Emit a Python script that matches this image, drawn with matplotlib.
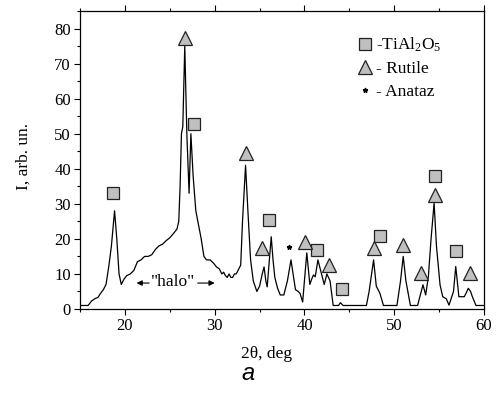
import matplotlib
matplotlib.use('Agg')
import matplotlib.pyplot as plt
from matplotlib.lines import Line2D
from matplotlib.ticker import MultipleLocator

plt.rcParams['font.family'] = ['Liberation Serif', 'DejaVu Serif']
plt.rcParams['mathtext.fontset'] = 'custom'
plt.rcParams['mathtext.rm'] = 'Liberation Serif'
plt.rcParams['mathtext.it'] = 'Liberation Serif:italic'

# XRD pattern (2theta, intensity)
two_theta = [15.0, 15.9, 16.3, 16.7, 17.0, 17.3, 17.6, 17.9, 18.2, 18.5, 18.85, 19.1, 19.35, 19.6,
             19.9, 20.2, 20.6, 21.0, 21.4, 21.8, 22.2, 22.6, 23.0, 23.4, 23.8, 24.2, 24.6, 25.0,
             25.4, 25.8, 26.0, 26.15, 26.3, 26.45, 26.67, 26.9, 27.15, 27.35, 27.6, 27.9, 28.2,
             28.5, 28.8, 29.1, 29.5, 29.9, 30.2, 30.5, 30.8, 31.0, 31.2, 31.4, 31.6, 31.8, 32.0,
             32.2, 32.4, 32.6, 32.9, 33.1, 33.44, 33.7, 34.0, 34.3, 34.7, 35.0, 35.3, 35.5, 35.7,
             35.85, 36.0, 36.3, 36.5, 36.7, 37.0, 37.3, 37.7, 38.1, 38.5, 38.8, 39.0, 39.3, 39.5,
             39.8, 40.0, 40.26, 40.6, 40.8, 41.0, 41.2, 41.5, 41.8, 42.2, 42.5, 42.85, 43.2, 43.8,
             44.0, 44.3, 46.9, 47.2, 47.7, 48.0, 48.4, 48.8, 50.3, 50.7, 51.0, 51.3, 51.8, 52.6,
             53.0, 53.2, 53.5, 53.8, 54.1, 54.44, 54.7, 55.1, 55.4, 55.8, 56.1, 56.4, 56.6, 56.85,
             57.2, 57.8, 58.0, 58.25, 58.5, 58.7, 59.1, 60.0]
intensity = [1, 1, 2.3, 3, 3.3, 4.5, 5.5, 7, 12, 18, 28, 20, 10, 7,
             8.5, 9.5, 10, 11, 13.5, 14, 15, 15, 15.5, 17, 18, 18.5, 19.5, 20.3,
             21.5, 22.8, 25, 35, 50, 52, 75, 50, 33, 50, 38, 28, 24,
             20, 15, 14, 14, 13, 12, 11.5, 10, 10.5, 9.5, 9, 10, 9, 9,
             10, 10, 11, 12.5, 25, 41, 28, 14, 8, 5, 6.5, 10, 12, 8,
             6.3, 11, 20.6, 14, 9, 6, 4, 4, 8, 14, 9, 5.5, 5, 4.5,
             2, 8, 16, 7, 8.5, 9.7, 9.2, 14, 11, 7, 10, 8, 1, 1,
             1.8, 1, 1, 5, 14, 6.5, 4.5, 1, 1, 8, 15, 8, 1, 1,
             5, 6.9, 4, 9.2, 20, 30.2, 18, 6.9, 3.5, 2.9, 1.1, 3.5, 5, 12.1,
             3.5, 3.5, 4.5, 5.9, 5, 3.5, 1, 1]

# phase markers
tial_x = [18.7, 27.7, 36.1, 41.4, 44.15, 48.4, 54.56, 56.9]
tial_y = [33, 52.8, 25.4, 16.9, 5.7, 20.7, 37.8, 16.6]
rutile_x = [26.67, 33.44, 35.3, 40.1, 42.7, 47.7, 51.0, 52.96, 54.56, 58.4]
rutile_y = [77.3, 44.5, 17.4, 19.2, 12.6, 17.3, 18.3, 10.2, 32.6, 10.2]
anataz_x = [38.3]
anataz_y = [17.7]

fig = plt.figure(figsize=(4.99, 3.97), dpi=100)
ax = fig.add_axes([0.1603, 0.2217, 0.8097, 0.7506])

ax.plot(two_theta, intensity, color='black', lw=0.9)

gray = '#c0c0c0'
ax.plot(tial_x, tial_y, 's', ms=8.4, mfc=gray, mec='#222222', mew=0.9, ls='none')
ax.plot(rutile_x, rutile_y, '^', ms=9.5, mfc=gray, mec='#222222', mew=0.9, ls='none')
ax.plot(anataz_x, anataz_y, '*', ms=3.5, color='black', ls='none')

# "halo" label with arrows
ax.text(25.4, 7.8, '"halo"', ha='center', va='center', fontsize=12.5)
arrow = dict(arrowstyle='-|>', color='black', lw=0.8, mutation_scale=8,
             shrinkA=0, shrinkB=0)
ax.annotate('', xy=(21.3, 7.4), xytext=(22.7, 7.4), arrowprops=arrow)
ax.annotate('', xy=(30.0, 7.4), xytext=(28.1, 7.4), arrowprops=arrow)

handles = [
    Line2D([], [], marker='s', ms=8.4, mfc=gray, mec='#222222', mew=0.9, ls='none'),
    Line2D([], [], marker='^', ms=9.5, mfc=gray, mec='#222222', mew=0.9, ls='none'),
    Line2D([], [], marker='*', ms=3.5, color='black', ls='none'),
]
labels = ['-TiAl$_2$O$_5$', '- Rutile', '- Anataz']
ax.legend(handles, labels, loc='upper left', bbox_to_anchor=(0.686, 0.917),
          frameon=False, fontsize=12.5, handlelength=0.9, handletextpad=0.2,
          borderpad=0, borderaxespad=0, labelspacing=0.4)

ax.set_xlim(15, 60)
ax.set_ylim(0, 85)
ax.xaxis.set_major_locator(MultipleLocator(10))
ax.xaxis.set_minor_locator(MultipleLocator(5))
ax.yaxis.set_major_locator(MultipleLocator(10))
ax.yaxis.set_minor_locator(MultipleLocator(5))
ax.tick_params(which='both', direction='out', top=True, right=False, labelsize=12, width=0.8)
ax.tick_params(which='major', length=4, pad=2.5)
ax.tick_params(which='minor', length=2.2)
for s in ax.spines.values():
    s.set_linewidth(0.9)

ax.set_xlabel('2θ, deg', fontsize=12.5)
ax.xaxis.set_label_coords(0.463, -0.125)
ax.set_ylabel('I, arb. un.', fontsize=12.5)
ax.yaxis.set_label_coords(-0.12, 0.513)

fig.text(0.497, 0.06, 'a', family='Liberation Sans', style='italic', fontsize=17,
         ha='center', va='center')

fig.savefig('out.png', dpi=100)
